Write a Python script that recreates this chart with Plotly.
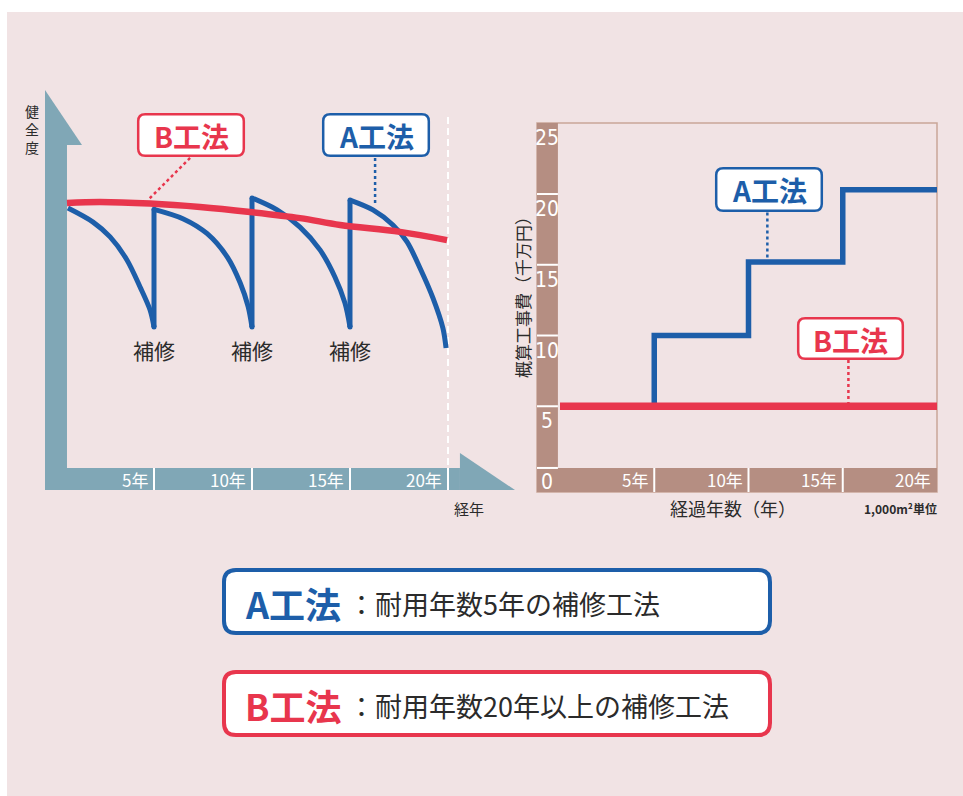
import plotly.graph_objects as go

W, H = 963, 796

# ---------- 健全度の推移 (left chart) ----------
# B工法: one long-life repair, health declines slowly
b_years = [0.56, 2.24, 4.8, 7.35, 9.9, 12.45, 14.5, 17.55, 19.95]
b_health = [100.0, 100.4, 99.8, 98.5, 96.6, 94.3, 91.7, 89.1, 86.0]

# A工法: health drops within each 5-year cycle, then is restored by 補修
a_years = [
    [0.61, 1.89, 2.76, 3.62, 4.29, 4.80, 5.0],
    [5.0, 6.5, 7.7, 8.75, 9.4, 9.8, 10.0],
    [10.0, 11.28, 12.45, 13.47, 14.23, 14.74, 15.0],
    [15.0, 16.17, 17.19, 17.91, 18.57, 19.23, 19.74, 19.9],
]
a_health = [
    [98.1, 92.8, 87.2, 78.5, 68.3, 59.6, 53.2],
    [97.6, 94.0, 88.5, 79.5, 69.8, 61.0, 53.2],
    [101.9, 97.4, 90.9, 82.3, 72.1, 62.3, 53.2],
    [101.1, 97.4, 91.7, 85.3, 75.5, 64.2, 52.8, 45.3],
]
repair_years = [5, 10, 15]
year_ticks = [5, 10, 15, 20]
year_labels = ["5年", "10年", "15年", "20年"]

# ---------- 概算工事費 (right chart) ----------
cost_years = [0, 5, 10, 15, 20]
cost_a = [5.0, 10.0, 15.2, 20.3, 20.3]
cost_b = [5.0, 5.0, 5.0, 5.0, 5.0]
cost_ticks = [0, 5, 10, 15, 20, 25]
cost_labels = ["0", "5", "10", "15", "20", "25"]

# ---------- style ----------
BLUE = "#1d5ea9"
RED = "#e8364d"
TEAL = "#80a7b6"
BROWN = "#b58e82"
FRAME = "#c9a698"
PINK = "#f1e3e4"
TEXT = "#2b2b2b"
JP = "Noto Sans CJK JP, Noto Sans, sans-serif"
NARROW = "Liberation Sans Narrow, DejaVu Sans Condensed, Liberation Sans, sans-serif"

# axis ranges (left: years / health, right: years / 千万円)
X1 = [-0.561, 23.418]
Y1 = [-8.30, 142.64]
X1_BAR = 0.561      # right edge of the vertical arrow bar
Y1_HEAD = 121.9     # base of the upward arrow head
X1_HEAD = 20.61     # base of the right arrow head
X2 = [-1.22, 20.0]
Y2 = [-1.06, 25.02]
X2_BAR = -0.11
Y2_BAR = 0.64


def px(x):
    return x / W


def py(y):
    return 1 - y / H


def rounded_box(x0, y0, x1, y1, r):
    pts = [
        ("M", (x0 + r, y0)), ("L", (x1 - r, y0)), ("Q", (x1, y0), (x1, y0 + r)),
        ("L", (x1, y1 - r)), ("Q", (x1, y1), (x1 - r, y1)), ("L", (x0 + r, y1)),
        ("Q", (x0, y1), (x0, y1 - r)), ("L", (x0, y0 + r)), ("Q", (x0, y0), (x0 + r, y0)),
    ]
    out = []
    for cmd, *ps in pts:
        out.append(cmd + " " + " ".join(f"{px(a):.5f},{py(b):.5f}" for a, b in ps))
    return " ".join(out) + " Z"


def label(text, x, y, size, color, family=JP, xref="paper", yref="paper", **kw):
    d = dict(xref=xref, yref=yref, x=x, y=y, text=text, showarrow=False,
             xanchor="center", yanchor="middle",
             font=dict(family=family, size=size, color=color))
    d.update(kw)
    return d


fig = go.Figure()

# A工法 decay curves
for xs, ys in zip(a_years, a_health):
    fig.add_trace(go.Scatter(x=xs, y=ys, mode="lines",
                             line=dict(color=BLUE, width=5, shape="spline", smoothing=0.9),
                             hoverinfo="skip"))
# repair jumps
jx, jy = [], []
for i, t in enumerate(repair_years):
    jx += [t, t, None]
    jy += [a_health[i][-1], a_health[i + 1][0], None]
fig.add_trace(go.Scatter(x=jx, y=jy, mode="lines+markers",
                         line=dict(color=BLUE, width=5),
                         marker=dict(color=BLUE, size=5), hoverinfo="skip"))
# B工法
fig.add_trace(go.Scatter(x=b_years, y=b_health, mode="lines",
                         line=dict(color=RED, width=6.5, shape="spline"),
                         hoverinfo="skip"))

# right chart: cumulative cost
fig.add_trace(go.Scatter(x=cost_years, y=cost_a, mode="lines", xaxis="x2", yaxis="y2",
                         line=dict(color=BLUE, width=5.5, shape="hv"), hoverinfo="skip"))
fig.add_trace(go.Scatter(x=cost_years, y=cost_b, mode="lines", xaxis="x2", yaxis="y2",
                         line=dict(color=RED, width=7.5), hoverinfo="skip"))

shapes = []
# page background
shapes.append(dict(type="rect", xref="paper", yref="paper", x0=px(7), x1=1, y0=0, y1=py(12),
                   fillcolor=PINK, line_width=0, layer="below"))

# left chart: arrow axes
shapes.append(dict(type="rect", xref="x", yref="y", x0=X1[0], x1=X1_BAR, y0=Y1[0], y1=Y1_HEAD,
                   fillcolor=TEAL, line_width=0, layer="below"))
shapes.append(dict(type="path", xref="x", yref="y",
                   path=f"M {X1[0]},{Y1[1]} L {X1[0]},{Y1_HEAD} L 1.327,{Y1_HEAD} Z",
                   fillcolor=TEAL, line_width=0, layer="below"))
shapes.append(dict(type="rect", xref="x", yref="y", x0=X1[0], x1=X1_HEAD, y0=Y1[0], y1=0,
                   fillcolor=TEAL, line_width=0, layer="below"))
shapes.append(dict(type="path", xref="x", yref="y",
                   path=f"M {X1_HEAD},5.66 L {X1_HEAD},{Y1[0]} L {X1[1]},{Y1[0]} Z",
                   fillcolor=TEAL, line_width=0, layer="below"))
for t in year_ticks:
    shapes.append(dict(type="line", xref="x", yref="y", x0=t, x1=t, y0=Y1[0], y1=0,
                       line=dict(color="white", width=2), layer="below"))
shapes.append(dict(type="line", xref="x", yref="y", x0=20, x1=20, y0=1.13, y1=133.2,
                   line=dict(color="white", width=2, dash="7px,4px"), layer="below"))

# right chart: frame and scale bars
shapes.append(dict(type="rect", xref="x2 domain", yref="y2 domain", x0=0, x1=1, y0=0, y1=1,
                   line=dict(color=FRAME, width=1.5), fillcolor="rgba(0,0,0,0)", layer="below"))
shapes.append(dict(type="rect", xref="x2", yref="y2", x0=X2[0], x1=X2_BAR, y0=Y2[0], y1=Y2[1],
                   fillcolor=BROWN, line_width=0, layer="below"))
shapes.append(dict(type="rect", xref="x2", yref="y2", x0=X2[0], x1=X2[1], y0=Y2[0], y1=Y2_BAR,
                   fillcolor=BROWN, line_width=0, layer="below"))
for t in year_ticks[:-1]:
    shapes.append(dict(type="line", xref="x2", yref="y2", x0=t, x1=t, y0=Y2[0], y1=Y2_BAR,
                       line=dict(color="white", width=2), layer="below"))
for v in [Y2_BAR] + cost_ticks[1:-1]:
    shapes.append(dict(type="line", xref="x2", yref="y2", x0=X2[0], x1=X2_BAR, y0=v, y1=v,
                       line=dict(color="white", width=2), layer="below"))

# dotted leaders from the method labels to the lines
shapes.append(dict(type="line", xref="x", yref="y", x0=6.84, y0=117.0, x1=4.69, y1=101.1,
                   line=dict(color=RED, width=2.5, dash="dot")))
shapes.append(dict(type="line", xref="x", yref="y", x0=16.28, y0=117.0, x1=16.28, y1=99.0,
                   line=dict(color=BLUE, width=2.5, dash="dot")))
shapes.append(dict(type="line", xref="x2", yref="y2", x0=11.0, y0=18.7, x1=11.0, y1=15.2,
                   line=dict(color=BLUE, width=2.5, dash="dot")))
shapes.append(dict(type="line", xref="x2", yref="y2", x0=15.3, y0=8.27, x1=15.3, y1=5.0,
                   line=dict(color=RED, width=2.5, dash="dot")))

# label boxes
small_boxes = [((137, 113, 245, 157), RED, "B工法"), ((322, 113, 430, 157), BLUE, "A工法"),
               ((715, 167, 823, 212), BLUE, "A工法"), ((797, 317, 904, 360), RED, "B工法")]
annotations = []
for (x0, y0, x1, y1), col, txt in small_boxes:
    shapes.append(dict(type="path", xref="paper", yref="paper",
                       path=rounded_box(x0 + 1.2, y0 + 1.2, x1 - 1.2, y1 - 1.2, 7),
                       fillcolor="white", line=dict(color=col, width=2.5)))
    annotations.append(label(f"<b>{txt}</b>", px((x0 + x1) / 2), py((y0 + y1) / 2 + 1), 28, col))

legend_rows = [(568, 635, BLUE, "A工法", "：耐用年数5年の補修工法"),
               (670, 737, RED, "B工法", "：耐用年数20年以上の補修工法")]
for y0, y1, col, name, desc in legend_rows:
    shapes.append(dict(type="path", xref="paper", yref="paper",
                       path=rounded_box(224, y0 + 2, 770, y1 - 2, 12),
                       fillcolor="white", line=dict(color=col, width=4)))
    yc = (y0 + y1) / 2 + 1
    annotations.append(label(f"<b>{name}</b>", px(243), py(yc), 36, col, xanchor="left"))
    annotations.append(label(desc, px(346), py(yc + 1), 27, TEXT, xanchor="left"))

# left chart texts
annotations.append(label("健<br>全<br>度", px(32), py(129), 14, TEXT))
for t in repair_years:
    annotations.append(label("補修", t, py(350), 21, TEXT, xref="x"))
for t, lab in zip(year_ticks, year_labels):
    annotations.append(label(lab, t, py(479), 17, "white", xref="x", xanchor="right", xshift=-4))
annotations.append(label("経年", px(469), py(508), 15, TEXT))

# right chart texts
for t, lab in zip(year_ticks, year_labels):
    annotations.append(label(lab, t, py(480), 17, "white", xref="x2", xanchor="right", xshift=-4))
bar_mid = (X2[0] + X2_BAR) / 2
for v, lab in zip(cost_ticks, cost_labels):
    if v == 0:
        annotations.append(label(lab, bar_mid, (Y2[0] + Y2_BAR) / 2 - 0.15, 21, "white",
                                 family=NARROW, xref="x2", yref="y2"))
    else:
        annotations.append(label(lab, bar_mid, v, 21, "white", family=NARROW,
                                 xref="x2", yref="y2", yanchor="top", yshift=-1))
annotations.append(label("概算工事費（千万円）", px(522), py(293), 17, TEXT, textangle=-90))
annotations.append(label("経過年数（年）", px(733), py(508), 18, TEXT))
annotations.append(label("<b>1,000m²単位</b>", px(900), py(508), 12, TEXT))

fig.update_layout(
    width=W, height=H, margin=dict(l=0, r=0, t=0, b=0),
    paper_bgcolor="white", plot_bgcolor="rgba(0,0,0,0)", showlegend=False,
    xaxis=dict(domain=[px(45), px(515)], range=X1, visible=False, fixedrange=True),
    yaxis=dict(domain=[py(490), py(90)], range=Y1, visible=False, fixedrange=True),
    xaxis2=dict(domain=[px(537), px(937)], range=X2, visible=False, anchor="y2", fixedrange=True),
    yaxis2=dict(domain=[py(492), py(123)], range=Y2, visible=False, anchor="x2", fixedrange=True),
    shapes=shapes, annotations=annotations,
)

fig.write_html("out.html", config={"displayModeBar": False})
